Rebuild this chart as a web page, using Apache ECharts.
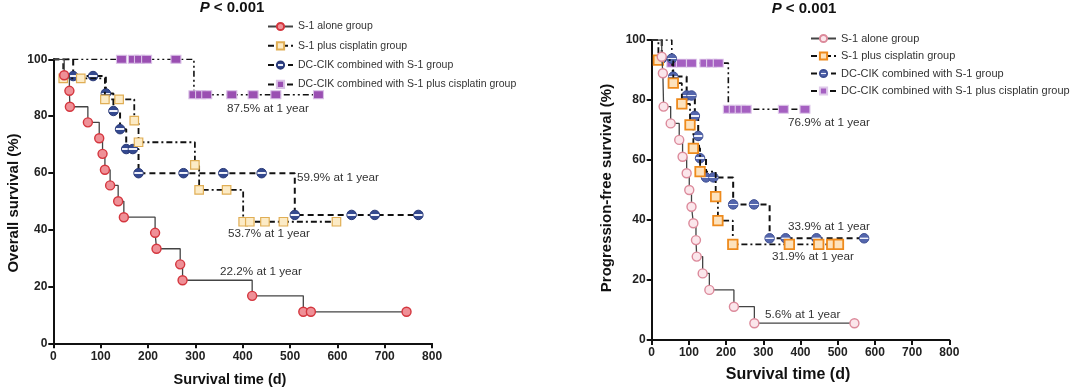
<!DOCTYPE html>
<html><head><meta charset="utf-8">
<script src="https://cdn.jsdelivr.net/npm/echarts@6/dist/echarts.min.js"></script>
<style>html,body{margin:0;padding:0;background:#fff}#c{width:1080px;height:388px}</style>
</head><body><div id="c"></div>
<script>
// ---- Overall survival (left) : [time (d), survival %]
const osAlone = [[0,100],[23,94.4],[34,88.9],[35,83.3],[73,77.8],[97,72.2],[104,66.7],[109,61.1],[120,55.6],[137,50],[149,44.4],[215,38.9],[218,33.3],[268,27.8],[273,22.2],[420,16.7],[528,11.1],[544,11.1],[746,11.1]];
const osCis = [[0,100],[21,93.3],[58,93.3],[109,85.9],[139,85.9],[171,78.4],[180,70.8],[299,62.8],[308,54],[366,54],[401,42.8],[415,42.8],[447,42.8],[486,42.8],[598,42.8]];
const osCik = [[0,100],[42,94.1],[84,94.1],[111,88],[127,81.8],[141,75.4],[154,68.4],[168,68.4],[180,59.9],[275,59.9],[359,59.9],[440,59.9],[510,45.2],[630,45.2],[679,45.2],[771,45.2]];
const osCikCis = [[0,100],[144,100],[169,100],[182,100],[197,100],[259,100],[297,87.5],[311,87.5],[324,87.5],[377,87.5],[422,87.5],[470,87.5],[560,87.5]];
// ---- Progression-free survival (right)
const pfsAlone = [[0,100],[27,94.4],[30,88.9],[32,77.8],[51,72.2],[74,66.7],[83,61.1],[94,55.6],[101,50],[107,44.4],[112,38.9],[119,33.3],[121,27.8],[137,22.2],[155,16.7],[221,11.1],[276,5.6],[545,5.6]];
const pfsCis = [[0,100],[18,93.3],[58,85.6],[81,78.7],[103,71.7],[112,63.9],[130,56.1],[172,47.8],[178,39.8],[218,31.9],[370,31.9],[449,31.9],[484,31.9],[502,31.9]];
const pfsCik = [[0,100],[27,93.8],[54,93.8],[58,87.8],[94,81.5],[107,81.5],[116,74.7],[125,68],[130,60.6],[146,54.2],[166,54.2],[219,45.2],[275,45.2],[317,33.9],[360,33.9],[443,33.9],[571,33.9]];
const pfsCikCis = [[0,100],[54,92.3],[80,92.3],[107,92.3],[143,92.3],[161,92.3],[179,92.3],[206,76.9],[222,76.9],[238,76.9],[254,76.9],[354,76.9],[412,76.9]];
// ---- labels
const groupNames = ['S-1 alone group','S-1 plus cisplatin group','DC-CIK combined with S-1 group','DC-CIK combined with S-1 plus cisplatin group'];
const xTicks = [0,100,200,300,400,500,600,700,800];
const yTicks = [0,20,40,60,80,100];
const pText = 'P < 0.001';
const osNotes = ['87.5% at 1 year','59.9% at 1 year','53.7% at 1 year','22.2% at 1 year'];
const pfsNotes = ['76.9% at 1 year','33.9% at 1 year','31.9% at 1 year','5.6% at 1 year'];
const xName = 'Survival time (d)';
const yNames = ['Overall survival (%)','Progression-free survival (%)'];

const chart = echarts.init(document.getElementById('c'));
const F = 'Liberation Sans';
function pts(arr){ return arr.map((p,i)=> i===0 ? {value:p, symbol:'none'} : p); }
function halfGrad(a){ return new echarts.graphic.LinearGradient(0,0,0,1,[
  {offset:0,color:a},{offset:0.42,color:a},{offset:0.43,color:'#eef0fa'},{offset:0.57,color:'#eef0fa'},{offset:0.58,color:a},{offset:1,color:a}]); }
function axisX(gi){ return {type:'value',gridIndex:gi,min:0,max:800,interval:100,
  axisLine:{show:true,lineStyle:{color:'#111',width:2}},
  axisTick:{show:true,length:5,lineStyle:{color:'#111',width:2}},
  axisLabel:{fontFamily:F,fontWeight:'bold',fontSize:12,color:'#222',margin:7,
    formatter:v=> xTicks.includes(v)? String(v):''},
  splitLine:{show:false}}; }
function axisY(gi){ return {type:'value',gridIndex:gi,min:0,max:100,interval:20,
  axisLine:{show:true,lineStyle:{color:'#111',width:2}},
  axisTick:{show:true,length:5,lineStyle:{color:'#111',width:2}},
  axisLabel:{fontFamily:F,fontWeight:'bold',fontSize:12,color:'#222',margin:6,
    formatter:v=> yTicks.includes(v)? String(v):''},
  splitLine:{show:false}}; }

const styles = {
  alone:  {ls:{color:'#444',width:1.3,type:'solid'}},
  cis:    {ls:{color:'#111',width:1.8,type:[6,3,2,3]}},
  cik:    {ls:{color:'#111',width:2,type:[6,4]}},
  cikcis: {ls:{color:'#111',width:1.6,type:[6,3,2,3,2,3]}}
};
function ser(prefix, idx, data, gi, sym, size, item, ls){
  return {type:'line', name: prefix + groupNames[idx], xAxisIndex:gi, yAxisIndex:gi,
    step:'end', data: pts(data), symbol: sym, symbolSize: size, showSymbol:true,
    itemStyle:item, lineStyle:ls, z: 10-idx};
}
const series = [
  ser('L:',0,osAlone,0,'circle',9,{color:'#ef9097',borderColor:'#d4363e',borderWidth:1.4},styles.alone.ls),
  ser('L:',1,osCis,0,'rect',8.5,{color:'#fcebc6',borderColor:'#e0ae55',borderWidth:1.2},styles.cis.ls),
  ser('L:',2,osCik,0,'circle',9.5,{color:halfGrad('#34498f'),borderColor:'#2a3a78',borderWidth:1},styles.cik.ls),
  ser('L:',3,osCikCis,0,'rect',[10,8],{color:'#9a4fb2',borderColor:'#d9c0e6',borderWidth:1},styles.cikcis.ls),
  ser('R:',0,pfsAlone,1,'circle',9,{color:'#fbe6eb',borderColor:'#dc8a9b',borderWidth:1.4},styles.alone.ls),
  ser('R:',1,pfsCis,1,'rect',9.5,{color:'#fde2bd',borderColor:'#ee8a1c',borderWidth:1.8},styles.cis.ls),
  ser('R:',2,pfsCik,1,'circle',9.5,{color:halfGrad('#5466ad'),borderColor:'#3d4e93',borderWidth:1},styles.cik.ls),
  ser('R:',3,pfsCikCis,1,'rect',[10,8],{color:'#a560c1',borderColor:'#dfcaea',borderWidth:1},styles.cikcis.ls)
];
function legend(prefix,left,top,gap,fs){
  return {data: groupNames.map(n=>prefix+n), left:left, top:top, orient:'vertical',
    itemWidth:25, itemHeight:9, itemGap:gap, selectedMode:false,
    formatter: n=>n.slice(2), textStyle:{fontFamily:F,fontSize:fs,color:'#333'}};
}
function txt(x,y,t,opt){ return Object.assign({type:'text',x:x,y:y,style:{text:t,fontFamily:F,fontSize:11.7,fill:'#333',textAlign:'left',textVerticalAlign:'middle'}},opt||{}); }
function ptitle(x,y){ return {type:'text',x:x,y:y,style:{text:'{i|P}{n|'+pText.slice(1)+'}',textAlign:'center',textVerticalAlign:'middle',
  rich:{i:{fontFamily:F,fontWeight:'bold',fontStyle:'italic',fontSize:15,fill:'#111'},n:{fontFamily:F,fontWeight:'bold',fontSize:15,fill:'#111'}}}}; }
function axTitle(x,y,t,fs,rot){ return {type:'text',x:x,y:y,rotation:rot||0,style:{text:t,fontFamily:F,fontWeight:'bold',fontSize:fs,fill:'#111',textAlign:'center',textVerticalAlign:'middle'}}; }

chart.setOption({
  animation:false,
  backgroundColor:'#fff',
  grid:[{left:53.3,top:59.3,width:378.8,height:284},{left:651.7,top:40,width:297.6,height:300}],
  xAxis:[axisX(0),axisX(1)],
  yAxis:[axisY(0),axisY(1)],
  legend:[legend('L:',262,16,8.3,10.5),legend('R:',805,28,6.5,11)],
  series:series,
  graphic:[
    ptitle(232,8), ptitle(804,9),
    txt(227,109,osNotes[0]), txt(297,178,osNotes[1]), txt(228,234,osNotes[2]), txt(220,272,osNotes[3]),
    txt(788,123,pfsNotes[0]), txt(788,227,pfsNotes[1]), txt(772,257,pfsNotes[2]), txt(765,315,pfsNotes[3]),
    axTitle(230,380,xName,14.5), axTitle(788,375,xName,16),
    axTitle(14,203,yNames[0],15,Math.PI/2), axTitle(607,188,yNames[1],15,Math.PI/2)
  ]
});
</script></body></html>
